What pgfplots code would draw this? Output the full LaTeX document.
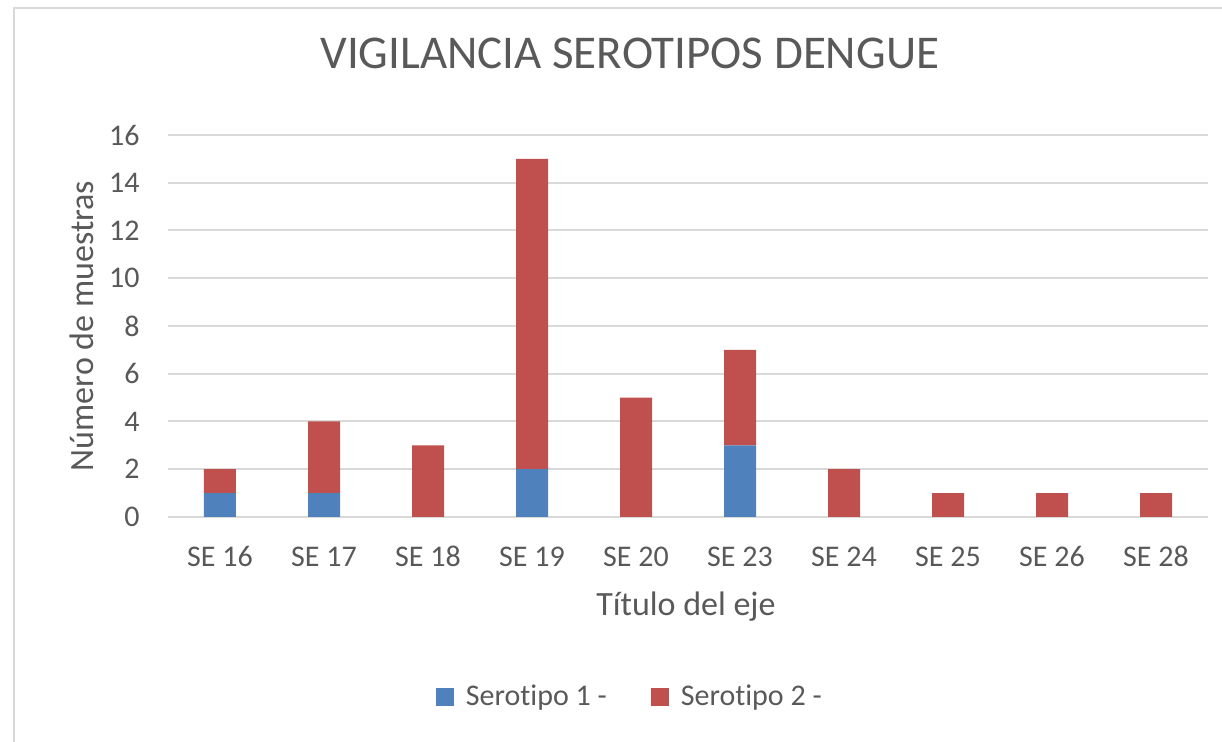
\documentclass[border=0pt]{standalone}
\usepackage{fontspec}
\setmainfont{Carlito}[Ligatures={NoCommon,NoRare,NoContextual}]
\usepackage{pgfplots}
\pgfplotsset{compat=1.18}
\definecolor{serA}{HTML}{4F81BD}
\definecolor{serB}{HTML}{C0504D}
\definecolor{gridc}{HTML}{D9D9D9}
\definecolor{txt}{HTML}{595959}
\begin{document}
\begin{tikzpicture}
\path[use as bounding box] (0,0) rectangle (611pt,371pt);
\begin{axis}[
  at={(84pt,112.5pt)}, anchor=south west,
  scale only axis, width=520pt, height=191pt,
  ybar stacked, bar width=16pt,
  xmin=-0.5, xmax=9.5, ymin=0, ymax=16,
  enlargelimits=false,
  xtick=data,
  xticklabels={SE 16,SE 17,SE 18,SE 19,SE 20,SE 23,SE 24,SE 25,SE 26,SE 28},
  ytick={0,2,...,16},
  axis line style={draw=none},
  tick style={draw=none},
  ymajorgrids, grid style={gridc, line width=1pt},
  /pgf/number format/assume math mode=true,
  tick label style={font=\fontsize{15}{18}\selectfont, text=txt, inner sep=0pt},
  y tick label style={anchor=east, xshift=-14pt},
  x tick label style={anchor=base, yshift=-25pt},
  title={VIGILANCIA SEROTIPOS DENGUE},
  title style={at={(0.444,1.183)}, anchor=center, font=\fontsize{23.5}{28}\selectfont, text=txt},
  xlabel={Título del eje},
  xlabel style={at={(0.498,-0.2356)}, anchor=center, font=\fontsize{17}{20}\selectfont, text=txt},
  ylabel={Número de muestras},
  ylabel style={at={(-0.0827,0.5)}, anchor=center, rotate=0, font=\fontsize{17}{20}\selectfont, text=txt},
  legend style={at={(0.445,-0.47)}, anchor=center, draw=none, fill=none,
    legend columns=2, font=\fontsize{15}{18}\selectfont, text=txt,
    /tikz/every odd column/.append style={column sep=4pt},
    /tikz/every even column/.append style={column sep=20pt}},
  legend image code/.code={\fill[#1] (0pt,-4.5pt) rectangle (9pt,4.5pt);},
]
\addplot[fill=serA, draw=none] coordinates {(0,1) (1,1) (2,0) (3,2) (4,0) (5,3) (6,0) (7,0) (8,0) (9,0)};
\addplot[fill=serB, draw=none] coordinates {(0,1) (1,3) (2,3) (3,13) (4,5) (5,4) (6,2) (7,1) (8,1) (9,1)};
\legend{Serot\kern0pt ipo 1 -, Serot\kern0pt ipo 2 -}
\end{axis}
\draw[gridc, line width=1.2pt] (7pt,0) -- (7pt,367pt) -- (611pt,367pt);
\end{tikzpicture}
\end{document}
